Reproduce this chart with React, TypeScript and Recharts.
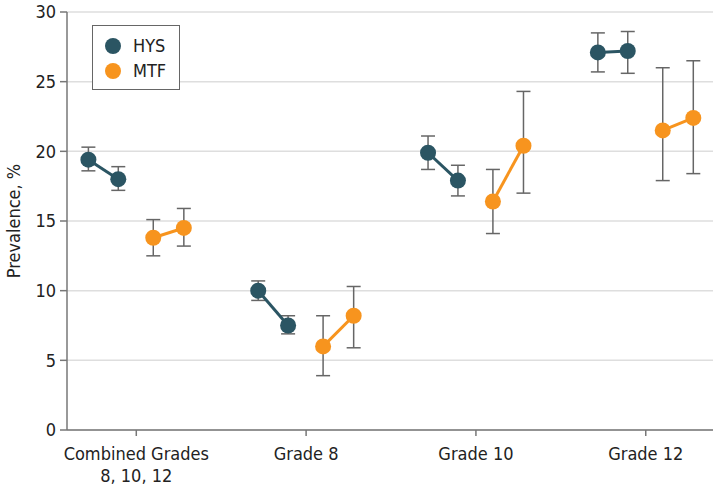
import {
  ComposedChart,
  Scatter,
  ErrorBar,
  XAxis,
  YAxis,
  CartesianGrid,
  Label,
} from 'recharts';

const categories = ['Combined Grades|8, 10, 12', 'Grade 8', 'Grade 10', 'Grade 12'];
const yTicks = [0, 5, 10, 15, 20, 25, 30];

// two survey points per category for each source
const hysA = [19.4, 10.0, 19.9, 27.1];
const hysALow = [18.6, 9.3, 18.7, 25.7];
const hysAHigh = [20.3, 10.7, 21.1, 28.5];
const hysB = [18.0, 7.5, 17.9, 27.2];
const hysBLow = [17.2, 6.9, 16.8, 25.6];
const hysBHigh = [18.9, 8.2, 19.0, 28.6];

const mtfA = [13.8, 6.0, 16.4, 21.5];
const mtfALow = [12.5, 3.9, 14.1, 17.9];
const mtfAHigh = [15.1, 8.2, 18.7, 26.0];
const mtfB = [14.5, 8.2, 20.4, 22.4];
const mtfBLow = [13.2, 5.9, 17.0, 18.4];
const mtfBHigh = [15.9, 10.3, 24.3, 26.5];

const HYS_COLOR = '#2b5563';
const MTF_COLOR = '#f7941e';
const FONT = '"DejaVu Sans Condensed", sans-serif';

const point = (x: number, v: number, lo: number, hi: number) => ({
  x,
  y: v,
  err: [v - lo, hi - v],
});

const hysSeries = categories.map((_, i) => [
  point(i + 1 - 0.282, hysA[i], hysALow[i], hysAHigh[i]),
  point(i + 1 - 0.106, hysB[i], hysBLow[i], hysBHigh[i]),
]);
const mtfSeries = categories.map((_, i) => [
  point(i + 1 + 0.1, mtfA[i], mtfALow[i], mtfAHigh[i]),
  point(i + 1 + 0.28, mtfB[i], mtfBLow[i], mtfBHigh[i]),
]);

const Dot = (props: any) => (
  <circle cx={props.cx} cy={props.cy} r={8} fill={props.fill} />
);

const CategoryTick = (props: any) => {
  const { x, y, payload } = props;
  const lines = categories[payload.value - 1].split('|');
  return (
    <text x={x} y={y} textAnchor="middle" fill="#222" fontSize={18} fontFamily={FONT}>
      {lines.map((l, k) => (
        <tspan key={k} x={x} dy={k === 0 ? 22 : 22}>
          {l}
        </tspan>
      ))}
    </text>
  );
};

const legendItems = [
  ['HYS', HYS_COLOR],
  ['MTF', MTF_COLOR],
];

export default function App() {
  return (
    <div style={{ position: 'absolute', left: 0, top: 0, width: 725, height: 486, background: '#fff' }}>
      <ComposedChart
        width={725}
        height={486}
        margin={{ top: 12, right: 12, bottom: 0, left: 0 }}
      >
        <CartesianGrid vertical={false} stroke="#dedede" strokeWidth={1.5} />
        <XAxis
          type="number"
          dataKey="x"
          domain={[0.592, 4.396]}
          allowDataOverflow
          ticks={[1, 2, 3, 4]}
          tick={<CategoryTick />}
          tickSize={6}
          height={56}
          stroke="#777"
          strokeWidth={1.5}
        />
        <YAxis
          type="number"
          dataKey="y"
          domain={[0, 30]}
          ticks={yTicks}
          width={67}
          tickSize={7}
          tickMargin={4}
          stroke="#777"
          strokeWidth={1.5}
          tick={{ fill: '#222', fontSize: 18, fontFamily: FONT }}
        >
          <Label
            value="Prevalence, %"
            angle={-90}
            position="insideLeft"
            offset={0}
            dx={14}
            style={{ fill: '#222', fontSize: 18, fontFamily: FONT, textAnchor: 'middle' }}
          />
        </YAxis>
        {hysSeries.map((d, i) => (
          <Scatter
            key={'hys' + i}
            data={d}
            fill={HYS_COLOR}
            line={{ stroke: HYS_COLOR, strokeWidth: 3 }}
            shape={<Dot />}
            isAnimationActive={false}
          >
            <ErrorBar dataKey="err" direction="y" width={7} stroke="#666" strokeWidth={1.5} />
          </Scatter>
        ))}
        {mtfSeries.map((d, i) => (
          <Scatter
            key={'mtf' + i}
            data={d}
            fill={MTF_COLOR}
            line={{ stroke: MTF_COLOR, strokeWidth: 3 }}
            shape={<Dot />}
            isAnimationActive={false}
          >
            <ErrorBar dataKey="err" direction="y" width={7} stroke="#666" strokeWidth={1.5} />
          </Scatter>
        ))}
      </ComposedChart>
      <div
        style={{
          position: 'absolute',
          left: 92,
          top: 25,
          width: 86,
          height: 63,
          border: '1px solid #666',
          background: '#fff',
          fontFamily: FONT,
          fontSize: 18,
          color: '#222',
        }}
      >
        {legendItems.map(([name, color], k) => (
          <div
            key={name}
            style={{ position: 'absolute', left: 12, top: 10 + k * 25, display: 'flex', alignItems: 'center' }}
          >
            <span
              style={{ width: 16, height: 16, borderRadius: 8, background: color, display: 'inline-block' }}
            />
            <span style={{ marginLeft: 12, lineHeight: '20px' }}>{name}</span>
          </div>
        ))}
      </div>
    </div>
  );
}
